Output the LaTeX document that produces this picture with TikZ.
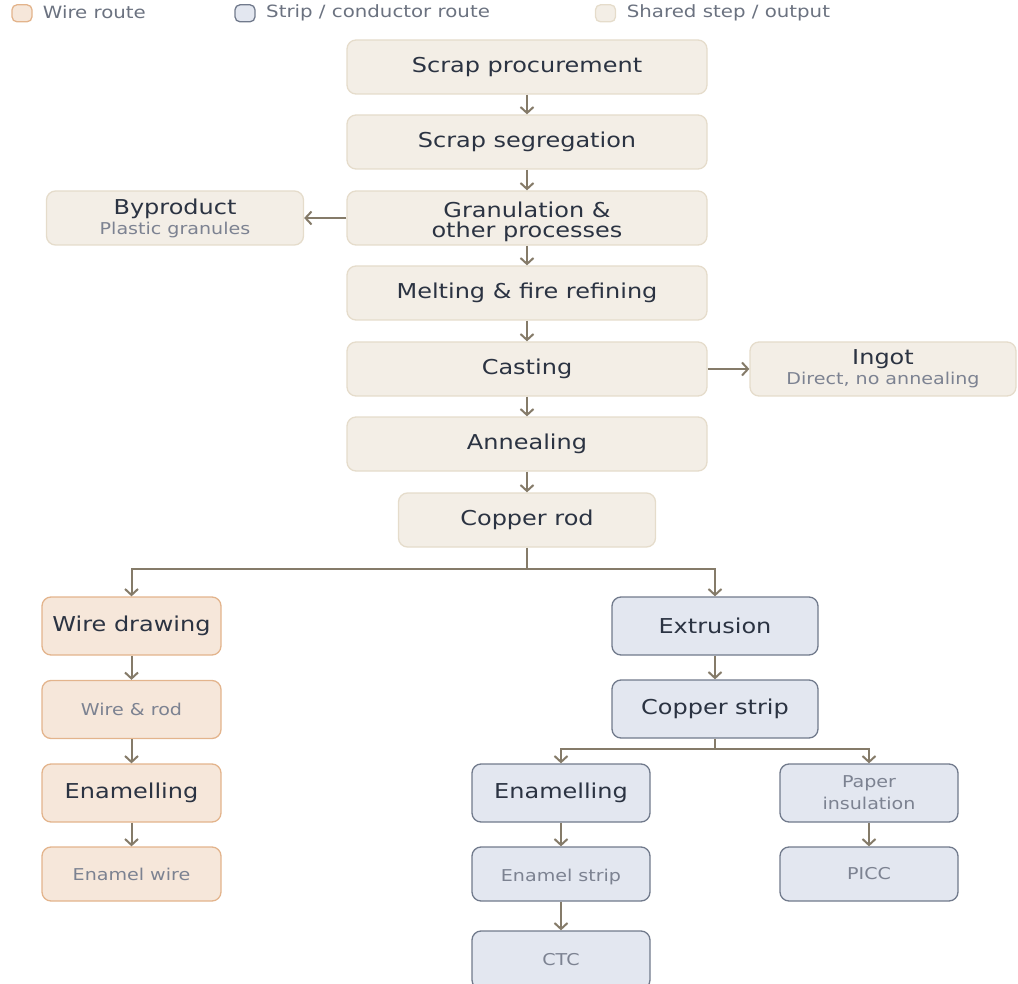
\documentclass[tikz,border=0pt]{standalone}
\usepackage{fontspec}
\setmainfont{DejaVu Sans}[FakeStretch=1.17]
\usetikzlibrary{arrows.meta}
\definecolor{sharedfill}{HTML}{F3EEE6}
\definecolor{shareddraw}{HTML}{E5DCCB}
\definecolor{wirefill}{HTML}{F6E7DA}
\definecolor{wiredraw}{HTML}{E3B48C}
\definecolor{stripfill}{HTML}{E3E7F0}
\definecolor{stripdraw}{HTML}{717A8C}
\definecolor{arrowc}{HTML}{857B69}
\definecolor{maintext}{HTML}{2B3342}
\definecolor{sectext}{HTML}{7C8291}
\definecolor{legtext}{HTML}{6B7280}
\newcommand{\mainsz}{\fontsize{20.5}{20}\selectfont}
\newcommand{\secsz}{\fontsize{16.3}{22}\selectfont}
\newcommand{\legsz}{\fontsize{16.9}{18}\selectfont}
\newcommand{\lowerby}[2]{\raisebox{0pt}[\dimexpr\height+#1\relax][\depth]{#2}}
\tikzset{
  box/.style={draw, rounded corners=9pt, line width=1.3pt, align=center, inner sep=0pt, font=\mainsz, text=maintext},
  shared/.style={box, fill=sharedfill, draw=shareddraw},
  wire/.style={box, fill=wirefill, draw=wiredraw},
  strip/.style={box, fill=stripfill, draw=stripdraw},
  sec/.style={font=\secsz, text=sectext},
  conn/.style={draw=arrowc, line width=2pt, -{Straight Barb[length=6pt,width=13pt,line width=2pt]}},
  legbox/.style={draw, rounded corners=5pt, line width=1.3pt, minimum width=20pt, minimum height=17pt, inner sep=0pt},
  legtxt/.style={anchor=west, font=\legsz, text=legtext, inner sep=0pt}
}
\begin{document}
\begin{tikzpicture}[x=1pt,y=-1pt]
\useasboundingbox (0,0) rectangle (1018,984);
% legend
\node[legbox, fill=wirefill, draw=wiredraw] (lw) at (22,13.3) {};
\node[legtxt] (lwt) at (42.7,12.5) {Wire route};
\node[legbox, fill=stripfill, draw=stripdraw] (ls) at (245,13.3) {};
\node[legtxt] (lst) at (266,12.5) {Strip / conductor route};
\node[legbox, fill=sharedfill, draw=shareddraw] (lh) at (605.5,13.3) {};
\node[legtxt] (lht) at (626.7,12.5) {Shared step / output};
% main column
\node[shared, minimum width=360pt, minimum height=54pt] (sp) at (527,67) {Scrap procurement};
\node[shared, minimum width=360pt, minimum height=54pt] (ss) at (527,142) {Scrap segregation};
\node[shared, minimum width=360pt, minimum height=54pt] (gr) at (527,218) {\lowerby{9pt}{\begin{tabular}{@{}c@{}}Granulation \&\\[-1.5pt]other processes\end{tabular}}};
\node[shared, minimum width=360pt, minimum height=54pt] (me) at (527,293) {Melting \& fire refining};
\node[shared, minimum width=360pt, minimum height=54pt] (ca) at (527,369) {Casting};
\node[shared, minimum width=360pt, minimum height=54pt] (an) at (527,444) {Annealing};
\node[shared, minimum width=257pt, minimum height=54pt] (cr) at (527,520) {Copper rod};
\node[shared, minimum width=257pt, minimum height=54pt] (by) at (175,218) {\fontsize{20.5}{22}\selectfont Byproduct\\{\secsz\color{sectext}Plastic granules}};
\node[shared, minimum width=266pt, minimum height=54pt] (in) at (883,369) {\fontsize{20.5}{23}\selectfont Ingot\\{\secsz\color{sectext}Direct, no annealing}};
% wire route
\node[wire, minimum width=179pt, minimum height=58pt] (wd) at (131.5,626) {Wire drawing};
\node[wire, sec, minimum width=179pt, minimum height=58pt] (wr) at (131.5,709.5) {Wire \& rod};
\node[wire, minimum width=179pt, minimum height=58pt] (we) at (131.5,793) {Enamelling};
\node[wire, sec, minimum width=179pt, minimum height=54pt] (ew) at (131.5,874) {Enamel wire};
% strip route
\node[strip, minimum width=206pt, minimum height=58pt] (ex) at (715,626) {Extrusion};
\node[strip, minimum width=206pt, minimum height=58pt] (cs) at (715,709) {Copper strip};
\node[strip, minimum width=178pt, minimum height=58pt] (se) at (561,793) {Enamelling};
\node[strip, sec, minimum width=178pt, minimum height=54pt] (es) at (561,874) {\lowerby{5pt}{Enamel strip}};
\node[strip, sec, minimum width=178pt, minimum height=58pt] (ct) at (561,960) {CTC};
\node[strip, sec, minimum width=178pt, minimum height=58pt] (pi) at (869,793) {Paper\\insulation};
\node[strip, sec, minimum width=178pt, minimum height=54pt] (pc) at (869,874) {PICC};
% connectors
\draw[conn] (sp) -- (ss);
\draw[conn] (ss) -- (gr);
\draw[conn] (gr) -- (me);
\draw[conn] (me) -- (ca);
\draw[conn] (ca) -- (an);
\draw[conn] (an) -- (cr);
\draw[conn] (gr.west) -- (by.east);
\draw[conn] (ca.east) -- (in.west);
\coordinate (j1) at (527,569);
\draw[conn] (cr.south) -- (j1) -| (wd.north);
\draw[conn] (j1) -| (ex.north);
\draw[conn] (wd) -- (wr);
\draw[conn] (wr) -- (we);
\draw[conn] (we) -- (ew);
\draw[conn] (ex) -- (cs);
\coordinate (j2) at (715,749);
\draw[conn] (cs.south) -- (j2) -| (se.north);
\draw[conn] (j2) -| (pi.north);
\draw[conn] (se) -- (es);
\draw[conn] (es) -- (ct);
\draw[conn] (pi) -- (pc);
\end{tikzpicture}
\end{document}
